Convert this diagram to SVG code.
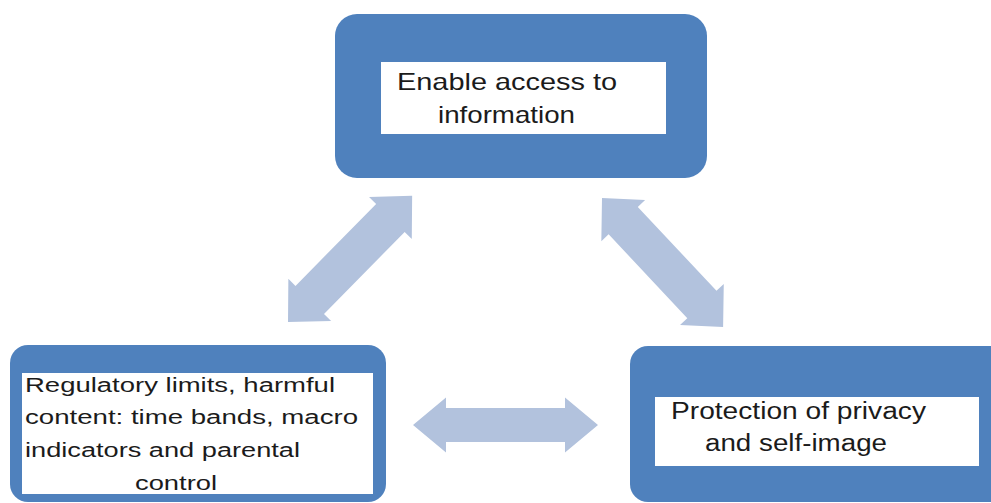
<svg xmlns="http://www.w3.org/2000/svg" width="991" height="503" viewBox="0 0 991 503">
  <style>
    .outer { fill: #4F81BD; }
    .inner { fill: #FFFFFF; }
    .label { font-family: "Liberation Sans", Arial, sans-serif; fill: #1B1B1B; }
    .arrow { fill: #B2C2DD; }
  </style>

  <!-- connectors: double-headed block arrows -->
  <g id="connectors">
    <g transform="translate(288,322) rotate(-45.46)">
      <polygon class="arrow" points="0,0 31,-30 31,-20 146,-20 146,-30 177,0 146,30 146,20 31,20 31,30"/>
    </g>
    <g transform="translate(602,198) rotate(46.83)">
      <polygon class="arrow" points="0,0 31,-30 31,-20 146,-20 146,-30 177,0 146,30 146,20 31,20 31,30"/>
    </g>
    <g transform="translate(413,425)">
      <polygon class="arrow" points="0,0 33,-27.5 33,-17 152,-17 152,-27.5 185,0 152,27.5 152,17 33,17 33,27.5"/>
    </g>
  </g>

  <!-- top node -->
  <g id="node-access">
    <rect class="outer" x="335" y="14" width="372" height="164" rx="22"/>
    <rect class="inner" x="381" y="62" width="285" height="72"/>
    <text class="label" font-size="24" x="397" y="90" textLength="220" lengthAdjust="spacingAndGlyphs">Enable access to</text>
    <text class="label" font-size="24" x="438" y="123" textLength="137" lengthAdjust="spacingAndGlyphs">information</text>
  </g>

  <!-- bottom-left node -->
  <g id="node-regulatory">
    <rect class="outer" x="10" y="345" width="376" height="157" rx="18"/>
    <rect class="inner" x="22" y="373" width="351" height="121"/>
    <text class="label" font-size="20" x="25" y="392" textLength="310" lengthAdjust="spacingAndGlyphs">Regulatory limits, harmful</text>
    <text class="label" font-size="20" x="25" y="424" textLength="333" lengthAdjust="spacingAndGlyphs">content: time bands, macro</text>
    <text class="label" font-size="20" x="25" y="457" textLength="275" lengthAdjust="spacingAndGlyphs">indicators and parental</text>
    <text class="label" font-size="20" x="135" y="490" textLength="82" lengthAdjust="spacingAndGlyphs">control</text>
  </g>

  <!-- bottom-right node -->
  <g id="node-privacy">
    <rect class="outer" x="630" y="346" width="380" height="156" rx="18"/>
    <rect class="inner" x="655" y="397" width="324" height="69"/>
    <text class="label" font-size="23" x="671" y="419" textLength="255" lengthAdjust="spacingAndGlyphs">Protection of privacy</text>
    <text class="label" font-size="23" x="705" y="451" textLength="182" lengthAdjust="spacingAndGlyphs">and self-image</text>
  </g>
</svg>
